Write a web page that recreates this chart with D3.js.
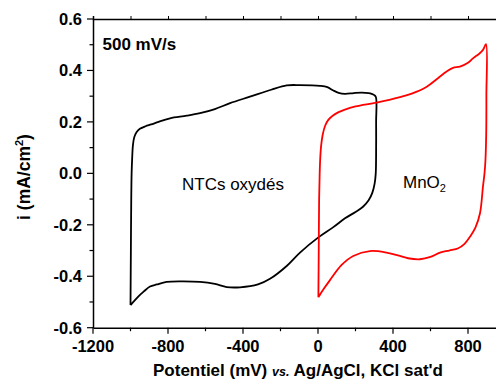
<!DOCTYPE html>
<html><head><meta charset="utf-8">
<script src="https://cdn.jsdelivr.net/npm/d3@7"></script>
<style>body{margin:0;background:#fff}svg{display:block}text{font-family:"Liberation Sans",Arial,sans-serif}</style>
</head><body><svg id="c" width="496" height="385"></svg>
<script>
// Data (potential mV, current mA/cm2)
const ntcPotential = [-1000,-998,-996,-994,-991,-987,-980,-968,-950,-920,-890,-850,-789,-700,-629,-550,-469,-363,-250,-167,-96,11,50,82,110,144,190,233,270,286,300,309,310,310,308,302,290,270,240,200,144,80,2,-96,-167,-256,-320,-416,-487,-550,-629,-720,-807,-860,-896,-930,-960,-985,-1000];
const ntcCurrent   = [-0.512,-0.3,-0.1,0.0,0.06,0.11,0.14,0.16,0.173,0.183,0.19,0.2,0.214,0.224,0.234,0.25,0.273,0.298,0.325,0.342,0.343,0.34,0.335,0.322,0.313,0.309,0.312,0.314,0.312,0.309,0.304,0.296,0.2,0.1,0.0,-0.04,-0.075,-0.105,-0.13,-0.15,-0.175,-0.21,-0.249,-0.308,-0.36,-0.41,-0.432,-0.443,-0.442,-0.43,-0.422,-0.42,-0.422,-0.432,-0.44,-0.46,-0.48,-0.5,-0.512];
const mnoPotential = [2,4,6,9,12,17,25,38,55,80,110,140,200,313,437,500,580,640,686,720,757,800,828,860,880,896,898,897,893,888,880,864,840,811,780,748,700,651,600,544,480,437,366,277,188,126,64,30,2];
const mnoCurrent   = [-0.482,-0.3,-0.1,0.0,0.06,0.11,0.15,0.185,0.208,0.225,0.238,0.247,0.26,0.275,0.296,0.31,0.337,0.37,0.396,0.41,0.415,0.43,0.448,0.465,0.48,0.502,0.3,0.15,0.05,0.0,-0.05,-0.155,-0.21,-0.246,-0.275,-0.291,-0.3,-0.308,-0.325,-0.334,-0.33,-0.321,-0.308,-0.302,-0.321,-0.356,-0.415,-0.45,-0.482];
const xTicks = [-1200,-800,-400,0,400,800];
const yTicks = [-0.6,-0.4,-0.2,0.0,0.2,0.4,0.6];

const svg = d3.select("#c");
const x = d3.scaleLinear().domain([-1200,1000]).range([93,505.5]);
const y = d3.scaleLinear().domain([-0.6,0.6]).range([327.7,19]);

// axes
const fmtY = d => d3.format(".1f")(d).replace("−","-");
const fmtX = d => String(d);
const gBottom = svg.append("g").attr("transform","translate(0,327.7)")
  .call(d3.axisBottom(x).tickValues(d3.range(-1200,1001,200)).tickSize(0).tickFormat(""));
gBottom.select(".domain").attr("stroke-width",1.5);
const gLeft = svg.append("g").attr("transform","translate(93,0)")
  .call(d3.axisLeft(y).tickValues(yTicks).tickSize(0).tickFormat(""));
gLeft.select(".domain").attr("stroke-width",1.5);
const gTop = svg.append("g").attr("transform","translate(0,19)")
  .call(d3.axisTop(x).tickValues(d3.range(-1200,1001,200)).tickSize(3).tickFormat(""));
gTop.select(".domain").attr("stroke-width",1.5);
gTop.selectAll(".tick line").attr("stroke-width",1);

// bottom and left ticks
svg.append("g").selectAll("line").data(d3.range(-1200,1001,200)).join("line")
  .attr("x1",d=>x(d)).attr("x2",d=>x(d)).attr("y1",327.7).attr("y2",d=>327.7+(d%400===0?6:3.5))
  .attr("stroke","#000").attr("stroke-width",1.2);
svg.append("g").selectAll("line").data(d3.range(-6,7,1)).join("line")
  .attr("y1",d=>y(d/10)).attr("y2",d=>y(d/10)).attr("x1",93).attr("x2",d=>93-(d%2===0?6:3.5))
  .attr("stroke","#000").attr("stroke-width",1.2);

svg.append("g").selectAll("text").data(xTicks).join("text")
  .attr("x",d=>x(d)).attr("y",352).attr("text-anchor","middle")
  .attr("font-size","16.5px").attr("font-weight","bold").text(fmtX);
svg.append("g").selectAll("text").data(yTicks).join("text")
  .attr("x",82).attr("y",d=>y(d)).attr("dy","0.36em").attr("text-anchor","end")
  .attr("font-size","16.5px").attr("font-weight","bold").text(fmtY);

// axis titles
const xt = svg.append("text").attr("x",298).attr("y",376).attr("text-anchor","middle")
  .attr("font-size","17px").attr("font-weight","bold");
xt.append("tspan").text("Potentiel (mV) ");
xt.append("tspan").attr("font-style","italic").attr("font-size","12.5px").text("vs.");
xt.append("tspan").text(" Ag/AgCl, KCl sat'd");

const yt = svg.append("text").attr("transform","translate(29.5,177) rotate(-90)")
  .attr("text-anchor","middle").attr("font-size","17.5px").attr("font-weight","bold");
yt.append("tspan").text("i (mA/cm");
yt.append("tspan").attr("font-size","11px").attr("dy","-7").text("2");
yt.append("tspan").attr("dy","7").text(")");

// curves
const line = d3.line().x(d=>x(d[0])).y(d=>y(d[1])).curve(d3.curveCatmullRom.alpha(0.5));
svg.append("path").datum(d3.zip(ntcPotential,ntcCurrent)).attr("d",line)
  .attr("fill","none").attr("stroke","#000").attr("stroke-width",1.8).attr("stroke-linejoin","round");
svg.append("path").datum(d3.zip(mnoPotential,mnoCurrent)).attr("d",line)
  .attr("fill","none").attr("stroke","#ff0000").attr("stroke-width",1.8).attr("stroke-linejoin","round");

// annotations
svg.append("text").attr("x",102.5).attr("y",50).attr("font-size","17px").attr("font-weight","bold").text("500 mV/s");
svg.append("text").attr("x",182).attr("y",190).attr("font-size","17px").text("NTCs oxydés");
const mn = svg.append("text").attr("x",403).attr("y",188).attr("font-size","17px");
mn.append("tspan").text("MnO");
mn.append("tspan").attr("font-size","11px").attr("dy","4").text("2");
</script></body></html>
